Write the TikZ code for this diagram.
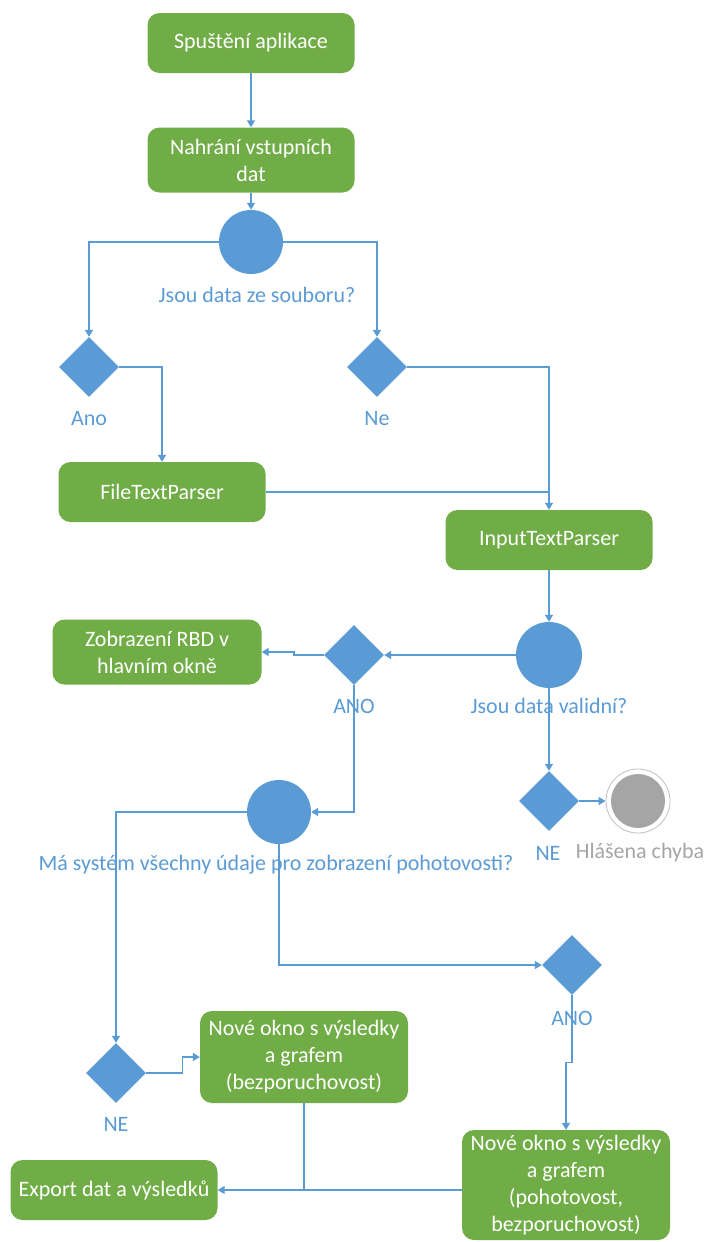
\documentclass[tikz,border=0pt]{standalone}
\usepackage{fontspec}
\setmainfont{Carlito}
\usetikzlibrary{shapes.geometric,arrows.meta,calc}
\definecolor{actgreen}{HTML}{70AD47}
\definecolor{flowblue}{HTML}{5B9BD5}
\definecolor{endgray}{HTML}{A5A5A5}
\begin{document}
\begin{tikzpicture}[x=1pt,y=-1pt,
  every node/.style={font=\fontsize{22}{27}\selectfont},
  actbox/.style={draw=none,fill=actgreen,rounded corners=12pt,text=white,align=center,
    minimum width=207pt,inner sep=2pt},
  decision/.style={diamond,fill=flowblue,draw=none,minimum width=60pt,minimum height=60pt,
    inner sep=0pt,aspect=1},
  merge/.style={circle,fill=flowblue,draw=none,minimum size=64pt,inner sep=0pt},
  lbl/.style={text=flowblue,inner sep=1pt},
  flow/.style={draw=flowblue,line width=1.4pt},
  arr/.style={flow,-{Triangle[width=8pt,length=7pt]}}
]
\useasboundingbox (0,0) rectangle (705,1242);

% activities
\node[actbox,minimum height=60pt] (start) at (251,43) {Spuštění aplikace};
\node[actbox,minimum height=65pt] (load) at (251,160) {Nahrání vstupních\\dat};
\node[actbox,minimum height=60pt] (fparse) at (162,492) {FileTextParser};
\node[actbox,minimum height=60pt] (iparse) at (549,540) {InputTextParser};
\node[actbox,minimum height=65pt,minimum width=209pt] (rbd) at (157,652) {Zobrazení RBD v\\hlavním okně};
\node[actbox,minimum height=92pt,minimum width=208pt] (resA) at (304,1057) {Nové okno s výsledky\\a grafem\\(bezporuchovost)};
\node[actbox,minimum height=110pt,minimum width=208pt] (resB) at (566,1185) {Nové okno s výsledky\\a grafem\\(pohotovost,\\bezporuchovost)};
\node[actbox,minimum height=60pt] (export) at (114,1190) {Export dat a výsledků};

% merge points and decisions
\node[merge] (srcq) at (251,242) {};
\node[merge,minimum height=66pt] (validq) at (549,655) {};
\node[merge] (availq) at (279,812) {};
\node[decision] (dyes) at (89,367) {};
\node[decision] (dno) at (377,367) {};
\node[decision] (dvalid) at (354,655) {};
\node[decision] (dinvalid) at (549,801) {};
\node[decision] (dnoav) at (116,1073) {};
\node[decision] (dav) at (572,965) {};

% final state
\node[circle,draw=endgray!70,line width=0.8pt,fill=white,minimum size=64pt,inner sep=0pt] (final) at (638,801) {};
\node[circle,fill=endgray,minimum size=54pt,inner sep=0pt] (finalin) at (final.center) {};

% connectors
\draw[arr] (start) -- (load);
\draw[arr] (load) -- (srcq);
\draw[arr] (srcq.west) -| (dyes.north);
\draw[arr] (srcq.east) -| (dno.north);
\draw[arr] (dyes.east) -| (fparse.north);
\draw[arr] (dno.east) -| (iparse.north);
\coordinate (join) at (fparse.east -| iparse.north);
\draw[flow] (fparse.east) -- (join);
\draw[arr] (iparse) -- (validq);
\draw[arr] (validq.west) -- (dvalid.east);
\draw[arr] (dvalid.west) -- ++(-30,0) -- ++(0,-3) -- (rbd.east);
\draw[arr] (dvalid.south) |- (availq.east);
\draw[arr] (validq.south) -- (dinvalid.north);
\draw[arr] (dinvalid.east) -- (final.west);
\draw[arr] (availq.west) -| (dnoav.north);
\draw[arr] (availq.south) |- (dav.west);
\draw[arr] (dnoav.east) -- ++(36,0) |- (resA.west);
\draw[arr] (dav.south) -- ++(0,67) -| (resB.north);
\coordinate (meet) at (resA.south |- export.east);
\draw[flow] (resA.south) -- (meet);
\draw[arr] (resB.west |- export.east) -- (export.east);

% labels
\node[lbl] (lsrc) at (257,295) {Jsou data ze souboru?};
\node[lbl] (lyes) at (89,419) {Ano};
\node[lbl] (lno) at (377,419) {Ne};
\node[lbl] (lvalidyes) at (354,706) {ANO};
\node[lbl] (lvalid) at (549,706) {Jsou data validní?};
\node[lbl] (linvalid) at (548,853) {NE};
\node[lbl,text=endgray] (lerr) at (640,853) {Hlášena chyba};
\node[lbl] (lavail) at (276,865) {Má systém všechny údaje pro zobrazení pohotovosti?};
\node[lbl] (lav) at (572,1018) {ANO};
\node[lbl] (lnoav) at (116,1124) {NE};
\end{tikzpicture}
\end{document}
